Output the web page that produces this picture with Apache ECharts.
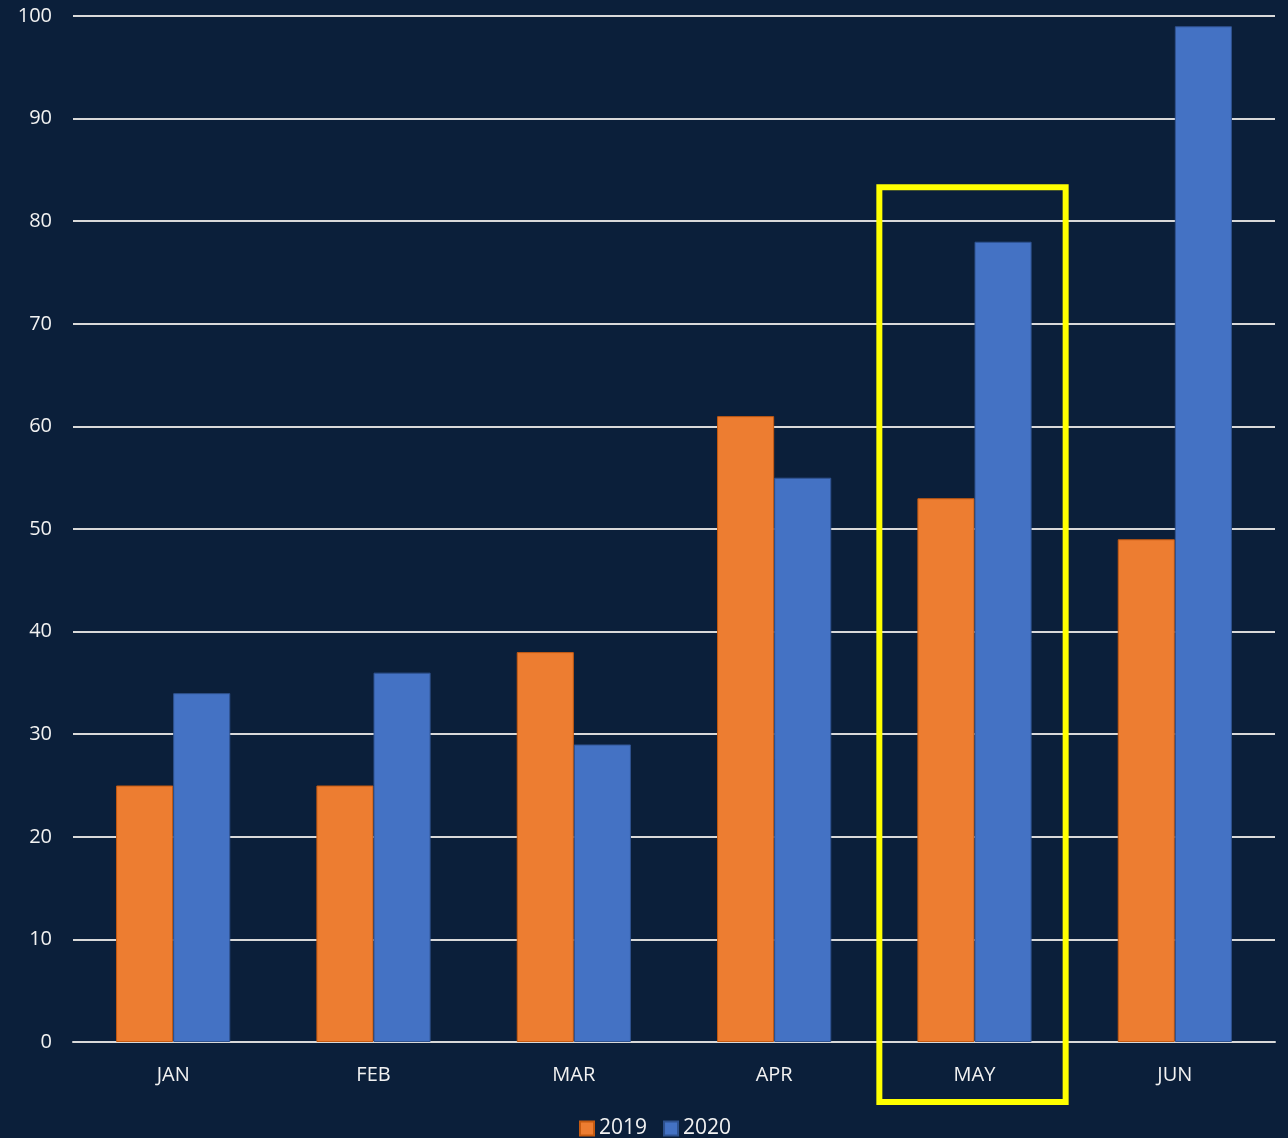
<!DOCTYPE html>
<html><head><meta charset="utf-8">
<script src="https://cdn.jsdelivr.net/npm/echarts@6/dist/echarts.min.js"></script>
<style>html,body{margin:0;padding:0;background:#0b1f3a;}#c{width:1288px;height:1138px;}</style>
</head><body><div id="c"></div>
<script>
const categories = ['JAN','FEB','MAR','APR','MAY','JUN'];
const series2019 = [25,25,38,61,53,49];
const series2020 = [34,36,29,55,78,99];
const yTicks = {min:0,max:100,interval:10};
const highlightCategory = 'MAY';
const highlightTop = 83.3;

const chart = echarts.init(document.getElementById('c'));
const font = "'Open Sans', 'Noto Sans', sans-serif";
chart.setOption({
  backgroundColor:'#0b1f3a',
  animation:false,
  grid:{left:73,right:13,top:16,bottom:96,containLabel:false},
  legend:{top:1113,left:574,itemWidth:14,itemHeight:14,itemGap:16,
    icon:'rect',textStyle:{color:'#f2f2f2',fontSize:21,fontFamily:font,padding:[0,0,0,0]},
    data:['2019','2020']},
  xAxis:{type:'category',data:categories,
    axisLine:{lineStyle:{color:'#d9d9d9',width:2}},
    axisTick:{show:false},
    axisLabel:{color:'#f2f2f2',fontSize:20,fontFamily:font,margin:23}},
  yAxis:{type:'value',min:yTicks.min,max:yTicks.max,interval:yTicks.interval,
    axisLine:{show:false},axisTick:{show:false},
    splitLine:{lineStyle:{color:'#d9d9d9',width:2}},
    axisLabel:{color:'#f2f2f2',fontSize:20,fontFamily:font,margin:21}},
  series:[
    {name:'2019',type:'bar',data:series2019,barGap:'0%',barCategoryGap:'43%',
      itemStyle:{color:'#ed7d31',borderColor:'#c55a11',borderWidth:1}},
    {name:'2020',type:'bar',data:series2020,barGap:'0%',barCategoryGap:'43%',
      itemStyle:{color:'#4472c4',borderColor:'#2f528f',borderWidth:1}}
  ]
});

function drawHighlight(){
  const cx = chart.convertToPixel({xAxisIndex:0}, highlightCategory);
  const x1 = chart.convertToPixel({xAxisIndex:0}, categories[1]);
  const x0 = chart.convertToPixel({xAxisIndex:0}, categories[0]);
  const band = x1 - x0;
  const top = chart.convertToPixel({yAxisIndex:0}, highlightTop);
  const zero = chart.convertToPixel({yAxisIndex:0}, 0);
  const halfW = band*0.465;
  chart.setOption({graphic:[{type:'rect',
    shape:{x:cx-halfW-2,y:top,width:halfW*2,height:(zero+60)-top},
    style:{fill:'none',stroke:'#ffff00',lineWidth:6},z:100}]});
}
drawHighlight();
</script></body></html>
